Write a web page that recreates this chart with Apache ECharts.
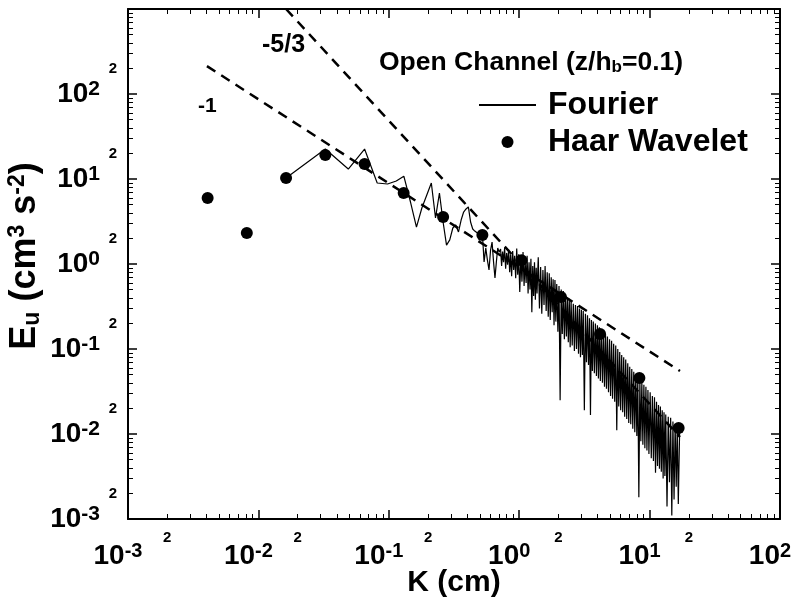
<!DOCTYPE html>
<html><head><meta charset="utf-8">
<script src="https://cdn.jsdelivr.net/npm/echarts@6/dist/echarts.min.js"></script>
<style>html,body{margin:0;padding:0;background:#fff}#c{width:801px;height:612px}</style>
</head><body><div id="c"></div>
<script>
// ---- data ----
const haarK = [0.00408, 0.00815, 0.0163, 0.0326, 0.0652, 0.130, 0.261, 0.522, 1.04, 2.09, 4.17, 8.35, 16.7];
const haarE = [5.98, 2.32, 10.3, 19.2, 15.0, 6.84, 3.57, 2.19, 1.11, 0.409, 0.150, 0.0456, 0.0118];

const fourierK = [0.0163,0.0326,0.0489,0.0652,0.0815,0.0978,0.1141,0.1304,0.1467,0.163,
  0.1793,0.1956,0.2119,0.2282,0.2445,0.2608,0.2771,0.2934,0.3097,0.326,
  0.3423,0.3586,0.3749,0.3912,0.4075,0.4238,0.4401,0.4564,0.4727,0.489,
  0.5053,0.5216,0.5379,0.5542,0.5705,0.5868,0.6031,0.6194,0.6357,0.652,
  0.6683,0.6846,0.7009,
  0.720,0.733,0.746,0.759,0.773,0.787,0.801,0.815,0.830,0.845,
  0.860,0.875,0.891,0.907,0.923,0.940,0.957,0.974,0.991,1.01,
  1.03,1.05,1.07,1.09,1.11,1.13,1.15,1.17,1.19,1.21,
  1.23,1.25,1.27,1.29,1.31,1.33,1.35,1.37,1.40,1.43,
  1.46,1.49,1.52,1.55,1.58,1.61,1.64,1.67,1.70,1.73,
  1.76,1.79,1.82,1.85,1.88,1.91,1.94,1.98,2.02,2.06,
  2.10,2.14,2.18,2.22,2.26,2.30,2.34,2.38,2.42,2.46,
  2.50,2.55,2.60,2.65,2.70,2.75,2.80,2.85,2.90,2.95,
  3.00,3.05,3.10,3.16,3.22,3.28,3.34,3.40,3.46,3.52,
  3.58,3.64,3.70,3.77,3.84,3.91,3.98,4.05,4.12,4.19,
  4.27,4.35,4.43,4.51,4.59,4.67,4.75,4.84,4.93,5.02,
  5.11,5.20,5.30,5.40,5.50,5.60,5.70,5.80,5.90,6.00,
  6.11,6.22,6.33,6.44,6.56,6.68,6.80,6.92,7.04,7.17,
  7.30,7.43,7.56,7.70,7.84,7.98,8.12,8.27,8.42,8.57,
  8.72,8.88,9.04,9.20,9.37,9.54,9.71,9.88,10.1,10.3,
  10.5,10.7,10.9,11.1,11.3,11.5,11.7,11.9,12.1,12.3,
  12.5,12.7,12.9,13.1,13.3,13.6,13.9,14.2,14.5,14.8,
  15.1,15.4,15.7,16.0,16.3,16.6,17.0];
const fourierE = [10.3,22.5,13.1,22.5,8.97,8.73,9.47,10.8,5.36,2.72,
  4.56,6.48,8.97,3.48,6.84,3.12,1.67,1.92,2.65,2.88,
  2.38,3.29,4.09,4.44,4.69,3.12,2.58,2.44,2.51,2.25,
  2.14,2.32,1.06,1.54,1.11,0.85,1.46,1.81,1.06,0.684,
  1.06,1.54,1.38,
  1.50,0.95,1.40,1.05,1.55,0.88,1.35,0.98,1.48,0.80,
  1.30,0.72,1.42,0.85,1.25,0.68,1.52,0.75,1.30,0.47,
  1.20,0.62,1.38,0.55,1.10,0.60,1.25,0.45,1.05,0.50,
  1.15,0.27,0.95,0.42,1.05,0.38,0.90,0.45,1.20,0.30,
  0.92,0.26,0.85,0.33,0.95,0.28,0.80,0.24,0.78,0.22,
  0.70,0.27,0.66,0.19,0.65,0.21,0.58,0.16,0.55,0.025,
  0.50,0.15,0.48,0.13,0.44,0.14,0.40,0.12,0.39,0.105,
  0.37,0.11,0.34,0.095,0.33,0.10,0.32,0.088,0.30,0.080,
  0.29,0.085,0.28,0.019,0.26,0.070,0.25,0.065,0.23,0.0167,
  0.22,0.055,0.21,0.052,0.20,0.048,0.19,0.045,0.18,0.042,
  0.165,0.040,0.155,0.036,0.150,0.034,0.140,0.031,0.130,0.028,
  0.125,0.026,0.115,0.024,0.110,0.0111,0.100,0.021,0.092,0.019,
  0.085,0.018,0.080,0.016,0.075,0.015,0.068,0.0135,0.062,0.013,
  0.058,0.0115,0.054,0.0105,0.050,0.0095,0.046,0.0018,0.043,0.0082,
  0.041,0.0075,0.038,0.0068,0.036,0.0064,0.033,0.0058,0.031,0.0052,
  0.028,0.0048,0.027,0.0035,0.024,0.0042,0.022,0.0039,0.021,0.0036,
  0.019,0.0030,0.018,0.0032,0.017,0.0014,0.016,0.0027,0.0155,0.0011,
  0.014,0.0017,0.013,0.0024,0.0125,0.0015,0.0112];

const slope1K = [0.00403, 17.1];
const slope1E = [213, 0.055];
const slope53K = [0.0163, 17.1];
const slope53E = [1000, 0.00922];

const minorMult = [2,3,4,5,6,7,8,9];
const xLabel2Exps = [-3,-2,-1,0,1];
const yLabel2Exps = [-3,-2,-1,0,1,2];

// ---- helpers ----
const F = "'Liberation Sans', Arial, Helvetica, sans-serif";
const zip = (a,b) => a.map((v,i)=>[v,b[i]]);
function minorTicks(e0,e1){const o=[];for(let e=e0;e<e1;e++)for(const m of minorMult)o.push(Math.log10(m)+e);return o;}
const decadeFmt = v => { const e = Math.round(Math.log10(v)); return '{b|10}{s|' + e + '}'; };

const chart = echarts.init(document.getElementById('c'), null, {renderer:'canvas'});
const blackLine = {show:true, onZero:false, lineStyle:{color:'#000', width:2}};
const richX = {
  b:{fontSize:28, fontWeight:'bold', fontFamily:F, color:'#000', lineHeight:30},
  s:{fontSize:20, fontWeight:'bold', fontFamily:F, color:'#000', verticalAlign:'top', lineHeight:20}
};
const richY = {
  b:{fontSize:28, fontWeight:'bold', fontFamily:F, color:'#000', lineHeight:30},
  s:{fontSize:21, fontWeight:'bold', fontFamily:F, color:'#000', verticalAlign:'top', lineHeight:26}
};
const two = {fontSize:15, fontWeight:'bold', fontFamily:F, color:'#000'};
const noLine = {show:false, onZero:false};

const option = {
  backgroundColor:'#fff',
  animation:false,
  grid:{left:128, right:21, top:9, bottom:93, outerBoundsMode:'none'},
  xAxis:[
    {type:'log', logBase:10, min:0.001, max:100, position:'bottom', splitNumber:5,
     axisLine:blackLine, axisTick:{show:true, inside:true, length:9, lineStyle:{color:'#000', width:1.5}},
     axisLabel:{show:true, margin:22, formatter:decadeFmt, rich:richX, padding:[0,20,0,0], showMinLabel:true, showMaxLabel:true},
     splitLine:{show:false},
     name:'K (cm)', nameLocation:'middle', nameGap:49, nameMoveOverlap:false,
     nameTextStyle:{fontSize:30, fontWeight:'bold', fontFamily:F, color:'#000'}},
    {type:'log', logBase:10, min:0.001, max:100, position:'top', splitNumber:5,
     axisLine:blackLine, axisTick:{show:true, inside:true, length:9, lineStyle:{color:'#000', width:1.5}},
     axisLabel:{show:false}, splitLine:{show:false}},
    {type:'value', min:-3, max:2, position:'bottom',
     axisLine:noLine, splitLine:{show:false},
     axisTick:{show:true, inside:true, length:5, customValues:minorTicks(-3,2), lineStyle:{color:'#000', width:1}},
     axisLabel:{show:true, margin:11, customValues:xLabel2Exps.map(e=>Math.log10(2)+e), formatter:()=> '2', ...two}},
    {type:'value', min:-3, max:2, position:'top',
     axisLine:noLine, splitLine:{show:false},
     axisTick:{show:true, inside:true, length:5, customValues:minorTicks(-3,2), lineStyle:{color:'#000', width:1}},
     axisLabel:{show:false}}
  ],
  yAxis:[
    {type:'log', logBase:10, min:0.001, max:1000, position:'left', splitNumber:6,
     axisLine:blackLine, axisTick:{show:true, inside:true, length:9, lineStyle:{color:'#000', width:1.5}},
     axisLabel:{show:true, margin:28, formatter:v=> (Math.round(Math.log10(v))>=3 ? '' : decadeFmt(v)), rich:richY},
     splitLine:{show:false},
     name:'{b|E}{sub|u}{b| (cm}{sup|3}{b| s}{sup|-2}{b|)}', nameLocation:'middle', nameGap:84, nameMoveOverlap:false,
     nameTextStyle:{padding:[0,0,0,16], rich:{
       b:{fontSize:36, fontWeight:'bold', fontFamily:F, color:'#000', lineHeight:38},
       sub:{fontSize:23, fontWeight:'bold', fontFamily:F, color:'#000', verticalAlign:'bottom', lineHeight:22},
       sup:{fontSize:23, fontWeight:'bold', fontFamily:F, color:'#000', verticalAlign:'top', lineHeight:22}
     }}},
    {type:'log', logBase:10, min:0.001, max:1000, position:'right', splitNumber:6,
     axisLine:blackLine, axisTick:{show:true, inside:true, length:9, lineStyle:{color:'#000', width:1.5}},
     axisLabel:{show:false}, splitLine:{show:false}},
    {type:'value', min:-3, max:3, position:'left',
     axisLine:noLine, splitLine:{show:false},
     axisTick:{show:true, inside:true, length:5, customValues:minorTicks(-3,3), lineStyle:{color:'#000', width:1}},
     axisLabel:{show:true, margin:11, customValues:yLabel2Exps.map(e=>Math.log10(2)+e), formatter:()=> '2', ...two}},
    {type:'value', min:-3, max:3, position:'right',
     axisLine:noLine, splitLine:{show:false},
     axisTick:{show:true, inside:true, length:5, customValues:minorTicks(-3,3), lineStyle:{color:'#000', width:1}},
     axisLabel:{show:false}}
  ],
  legend:{
    left:473, top:83, orient:'vertical', itemWidth:57, itemHeight:12, itemGap:3, selectedMode:false,
    data:[{name:'Fourier', itemStyle:{opacity:0}},{name:'Haar Wavelet', icon:'circle', itemStyle:{color:'#000', opacity:1}}],
    textStyle:{fontSize:32, fontWeight:'bold', fontFamily:F, color:'#000', lineHeight:34, padding:[0,0,0,7]}
  },
  series:[
    {name:'Fourier', type:'line', xAxisIndex:0, yAxisIndex:0, data:zip(fourierK,fourierE),
     symbol:'none', lineStyle:{color:'#000', width:1.2}, itemStyle:{color:'#000'}, z:2},
    {name:'slope -1', type:'line', xAxisIndex:0, yAxisIndex:0, data:zip(slope1K,slope1E),
     symbol:'none', lineStyle:{color:'#000', width:2.5, type:[10,7]}, z:3},
    {name:'slope -5/3', type:'line', xAxisIndex:0, yAxisIndex:0, data:zip(slope53K,slope53E),
     symbol:'none', lineStyle:{color:'#000', width:2.5, type:[10,7]}, z:3},
    {name:'Haar Wavelet', type:'scatter', xAxisIndex:0, yAxisIndex:0, data:zip(haarK,haarE),
     symbol:'circle', symbolSize:12, itemStyle:{color:'#000', opacity:1}, z:5}
  ],
  graphic:[
    {type:'text', left:198, top:96, style:{text:'-1', font:'bold 21px '+F, fill:'#000'}},
    {type:'text', left:262, top:33, style:{text:'-5/3', font:'bold 25px '+F, fill:'#000'}},
    {type:'text', left:379, top:49, style:{text:'{a|Open Channel (z/h}{s|b}{a|=0.1)}', rich:{
      a:{fontSize:26.5, fontWeight:'bold', fontFamily:F, fill:'#000', color:'#000'},
      s:{fontSize:17, fontWeight:'bold', fontFamily:F, fill:'#000', color:'#000', verticalAlign:'bottom'}}}}
  ]
};
chart.setOption(option);
</script></body></html>
